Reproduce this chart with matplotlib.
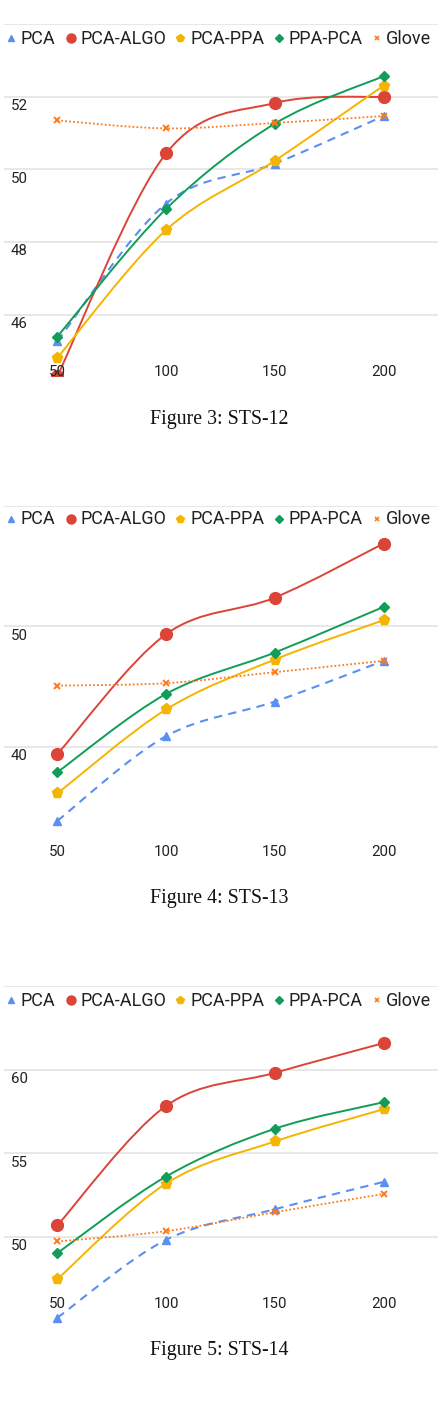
import numpy as np
import matplotlib
matplotlib.use("Agg")
import matplotlib.pyplot as plt
import matplotlib.transforms as mtransforms
from matplotlib.path import Path
from matplotlib.patches import PathPatch

# ---------------- data ----------------
dims = [50, 100, 150, 200]
series_names = ["PCA", "PCA-ALGO", "PCA-PPA", "PPA-PCA", "Glove"]

sts12_pca = [45.27, 49.06, 50.16, 51.47]
sts12_algo = [44.30, 50.44, 51.83, 52.00]
sts12_pca_ppa = [44.81, 48.33, 50.24, 52.31]
sts12_ppa_pca = [45.39, 48.91, 51.26, 52.57]
sts12_glove = [51.35, 51.13, 51.28, 51.47]

sts13_pca = [33.87, 40.89, 43.76, 47.13]
sts13_algo = [39.40, 49.34, 52.37, 56.85]
sts13_pca_ppa = [36.14, 43.10, 47.24, 50.50]
sts13_ppa_pca = [37.90, 44.39, 47.82, 51.60]
sts13_glove = [45.08, 45.28, 46.19, 47.13]

sts14_pca = [45.15, 49.82, 51.65, 53.29]
sts14_algo = [50.68, 57.84, 59.82, 61.60]
sts14_pca_ppa = [47.46, 53.19, 55.71, 57.64]
sts14_ppa_pca = [49.02, 53.61, 56.47, 58.06]
sts14_glove = [49.72, 50.34, 51.47, 52.57]

yticks12 = [46, 48, 50, 52, 54]
yticks13 = [40, 50, 60]
yticks14 = [50, 55, 60, 65]
captions = ["Figure 3: STS-12", "Figure 4: STS-13", "Figure 5: STS-14"]

# ---------------- style ----------------
W, H = 445, 1401
DPI = 100
colors = ["#5b8ff0", "#db4437", "#f4b400", "#0f9d58", "#ff7a1a"]
markers = ["^", "o", "p", "D", "x"]
msizes = [5.5, 8.5, 8, 5.5, 4]
plot_styles = [
    dict(lw=1.5, ls=(0, (4, 3))),
    dict(lw=1.4, ls="-"),
    dict(lw=1.4, ls="-"),
    dict(lw=1.4, ls="-"),
    dict(lw=1.3, ls=(0, (1, 1.2))),
]
TXT = "#222222"
GRID = "#e2e2e2"

fig = plt.figure(figsize=(W / DPI, H / DPI), dpi=DPI)
overlay = fig.add_axes([0, 0, 1, 1], zorder=10)
overlay.set_xlim(0, W)
overlay.set_ylim(H, 0)
overlay.axis("off")
overlay.patch.set_alpha(0)


def smooth_path(xs, ys):
    pts = np.column_stack([xs, ys]).astype(float)
    n = len(pts)
    verts = [pts[0]]
    codes = [Path.MOVETO]
    for i in range(n - 1):
        p0 = pts[i - 1] if i > 0 else pts[i]
        p1 = pts[i]
        p2 = pts[i + 1]
        p3 = pts[i + 2] if i + 2 < n else pts[i + 1]
        c1 = p1 + (p2 - p0) / 6.0
        c2 = p2 - (p3 - p1) / 6.0
        verts += [c1, c2, p2]
        codes += [Path.CURVE4] * 3
    return Path(verts, codes)


panels = [
    dict(data=[sts12_pca, sts12_algo, sts12_pca_ppa, sts12_ppa_pca, sts12_glove],
         yticks=yticks12, top_px=24.2, ppu=36.3, bottom_px=376, legend_y=38.3,
         xlab_y=371.7, cap_y=419.5, cap=captions[0]),
    dict(data=[sts13_pca, sts13_algo, sts13_pca_ppa, sts13_ppa_pca, sts13_glove],
         yticks=yticks13, top_px=505.5, ppu=12.07, bottom_px=872, legend_y=519,
         xlab_y=852.3, cap_y=898, cap=captions[1]),
    dict(data=[sts14_pca, sts14_algo, sts14_pca_ppa, sts14_ppa_pca, sts14_glove],
         yticks=yticks14, top_px=986.3, ppu=16.7, bottom_px=1330, legend_y=1000,
         xlab_y=1304, cap_y=1350.5, cap=captions[2]),
]

left_px, right_px = 4, 438
for p in panels:
    top_val = max(p["yticks"])
    bottom_val = top_val - (p["bottom_px"] - p["top_px"]) / p["ppu"]
    ax = fig.add_axes([left_px / W, 1 - p["bottom_px"] / H,
                       (right_px - left_px) / W, (p["bottom_px"] - p["top_px"]) / H])
    ax.set_xlim(25.5, 225)
    ax.set_ylim(bottom_val, top_val)
    ax.axis("off")
    # gridlines
    for t in p["yticks"]:
        ax.axhline(t, color=GRID, lw=1.1, zorder=0)
        if t != top_val:
            ax.text(0, t, str(t), transform=ax.get_yaxis_transform() + mtransforms.ScaledTranslation(6.5 / DPI, -9.5 / DPI, fig.dpi_scale_trans),
                    ha="left", va="center", fontsize=10.8, color=TXT, family="Roboto", zorder=5)
    # series
    for k, ys in enumerate(p["data"]):
        st = plot_styles[k]
        path = smooth_path(dims, ys)
        patch = PathPatch(path, facecolor="none", edgecolor=colors[k], lw=st["lw"],
                          linestyle=st["ls"], zorder=2 + k, capstyle="butt")
        ax.add_patch(patch)
        mk = dict(marker=markers[k], ms=msizes[k], color=colors[k], ls="none", zorder=2.5 + k)
        if markers[k] == "x":
            mk.update(mew=1.4)
        else:
            mk.update(mec=colors[k])
        ax.plot(dims, ys, **mk)
    # x tick labels
    bt = mtransforms.blended_transform_factory(ax.transData, overlay.transData)
    for d in dims:
        overlay.text(d, p["xlab_y"], str(d), transform=bt, ha="center", va="center",
                     fontsize=10.8, color=TXT, family="Roboto", zorder=20)
    # legend
    leg_marker_x = [11, 70.5, 180, 278.5, 376.5]
    leg_text_x = [20.5, 80, 190, 288, 386]
    leg_ms = [4.5, 6.5, 6, 4.5, 3.5]
    for k, name in enumerate(series_names):
        mk = dict(marker=markers[k], ms=leg_ms[k], color=colors[k], ls="none")
        if markers[k] == "x":
            mk.update(mew=1.2)
        overlay.plot([leg_marker_x[k]], [p["legend_y"]], **mk)
        overlay.text(leg_text_x[k], p["legend_y"] + 0.5, name, ha="left", va="center",
                     fontsize=13, color=TXT, family="Roboto")
    # caption
    overlay.text(219, p["cap_y"], p["cap"], ha="center", va="center", fontsize=14.3,
                 color="#111111", family="Liberation Serif")

fig.savefig("out.png", dpi=DPI)
